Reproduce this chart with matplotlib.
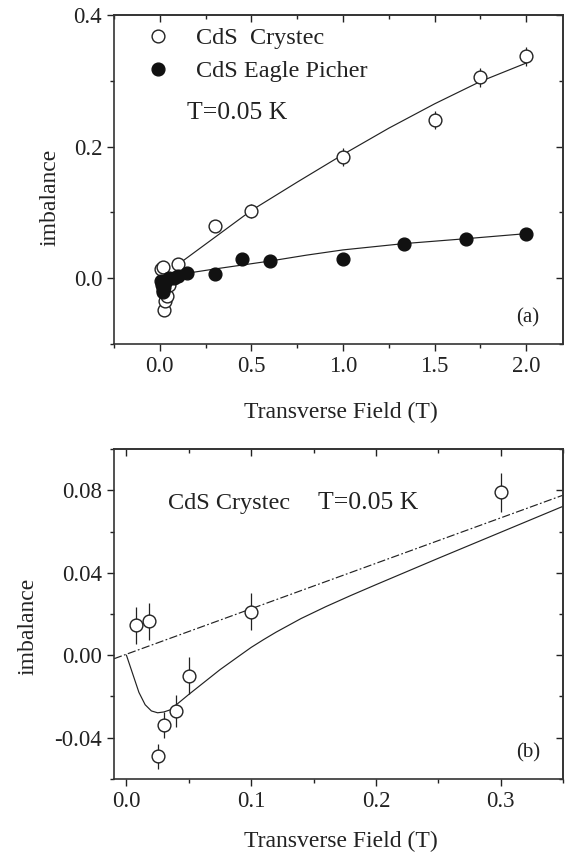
import matplotlib
matplotlib.use('Agg')
import matplotlib.pyplot as plt
from matplotlib.ticker import MultipleLocator, FormatStrFormatter
from matplotlib.lines import Line2D

plt.rcParams['font.family'] = ['Liberation Serif', 'DejaVu Serif']
plt.rcParams['axes.unicode_minus'] = False

INK = '#222222'

# ---- data: CdS Crystec (open circles) ----
crystec_x = [0.008, 0.018, 0.025, 0.030, 0.040, 0.050, 0.100, 0.300, 0.500, 1.000, 1.500, 1.750, 2.000]
crystec_y = [0.0145, 0.0165, -0.049, -0.034, -0.027, -0.010, 0.021, 0.079, 0.102, 0.184, 0.240, 0.305, 0.337]
crystec_err = [0.009, 0.009, 0.006, 0.0063, 0.0078, 0.009, 0.009, 0.0094, 0.010, 0.014, 0.014, 0.014, 0.014]

# ---- data: CdS Eagle Picher (filled circles) ----
eagle_x = [0.005, 0.010, 0.015, 0.020, 0.025, 0.030, 0.040, 0.050, 0.075, 0.100, 0.150, 0.300, 0.450, 0.600, 1.000, 1.330, 1.670, 2.000]
eagle_y = [-0.004, -0.010, -0.018, -0.021, -0.014, -0.006, -0.003, 0.000, 0.001, 0.004, 0.0076, 0.006, 0.0288, 0.0258, 0.0288, 0.0525, 0.060, 0.0677]
eagle_err = [0.004, 0.004, 0.004, 0.004, 0.004, 0.004, 0.004, 0.004, 0.004, 0.004, 0.004, 0.004, 0.005, 0.008, 0.005, 0.005, 0.005, 0.005]

# ---- fit curves ----
crystec_fit_x = [0.1, 0.3, 0.5, 0.75, 1.0, 1.25, 1.5, 1.75, 2.0]
crystec_fit_y = [0.021, 0.062, 0.103, 0.146, 0.188, 0.228, 0.265, 0.299, 0.327]

eagle_fit_x = [0.1, 0.15, 0.3, 0.45, 0.6, 0.8, 1.0, 1.33, 1.67, 2.0]
eagle_fit_y = [0.0055, 0.0076, 0.0140, 0.0200, 0.026, 0.035, 0.043, 0.0525, 0.060, 0.0677]

low_fit_x = [0.0, 0.005, 0.010, 0.015, 0.020, 0.025, 0.030, 0.035, 0.040, 0.050, 0.060, 0.075,
             0.090, 0.100, 0.110, 0.120, 0.140, 0.160, 0.180, 0.200, 0.250, 0.300, 0.350]
low_fit_y = [0.0, -0.009, -0.018, -0.024, -0.027, -0.0279, -0.0275, -0.0265, -0.024, -0.019, -0.0142, -0.0070,
             -0.0005, 0.0038, 0.0076, 0.0112, 0.0178, 0.0236, 0.0290, 0.0342, 0.0470, 0.0596, 0.0722]

linear_x = [-0.01, 0.35]
linear_y = [-0.0017, 0.0776]

legend_labels = ['CdS  Crystec', 'CdS Eagle Picher']

fig = plt.figure(figsize=(5.71, 8.6), dpi=100)
ax1 = fig.add_axes([0.1996, 0.6, 0.7863, 0.3826])
ax2 = fig.add_axes([0.1996, 0.0942, 0.7863, 0.3837])

MS = 9.2


def style(ax, xmaj, xmin, ymaj, ymin, xfmt, yfmt):
    ax.xaxis.set_major_locator(MultipleLocator(xmaj))
    ax.xaxis.set_minor_locator(MultipleLocator(xmin))
    ax.yaxis.set_major_locator(MultipleLocator(ymaj))
    ax.yaxis.set_minor_locator(MultipleLocator(ymin))
    ax.xaxis.set_major_formatter(FormatStrFormatter(xfmt))
    ax.yaxis.set_major_formatter(FormatStrFormatter(yfmt))
    ax.tick_params(which='both', direction='out', colors=INK, labelsize=16.5, width=1.0)
    ax.tick_params(which='major', length=5, pad=3.5)
    ax.tick_params(which='minor', length=3)
    for s in ax.spines.values():
        s.set_linewidth(1.2)
        s.set_color('#333333')
    top = ax.secondary_xaxis('top')
    top.xaxis.set_major_locator(MultipleLocator(xmaj))
    top.xaxis.set_minor_locator(MultipleLocator(xmin))
    top.tick_params(which='both', direction='in', labeltop=False, colors=INK, width=1.0)
    top.tick_params(which='major', length=5)
    top.tick_params(which='minor', length=3)
    top.spines['top'].set_linewidth(1.2)
    top.spines['top'].set_color('#333333')
    right = ax.secondary_yaxis('right')
    right.yaxis.set_major_locator(MultipleLocator(ymaj))
    right.yaxis.set_minor_locator(MultipleLocator(ymin))
    right.tick_params(which='both', direction='in', labelright=False, colors=INK, width=1.0)
    right.tick_params(which='major', length=5)
    right.tick_params(which='minor', length=3)
    right.spines['right'].set_linewidth(1.2)
    right.spines['right'].set_color('#333333')


# ---------------- panel (a) ----------------
ax1.plot(crystec_fit_x, crystec_fit_y, color=INK, lw=0.85, zorder=2)
ax1.plot(eagle_fit_x, eagle_fit_y, color=INK, lw=0.85, zorder=2)
ax1.errorbar(crystec_x, crystec_y, yerr=crystec_err, fmt='o', ms=MS, mfc='white', mec=INK,
             mew=1.0, ecolor=INK, elinewidth=0.9, capsize=0, zorder=3)
ax1.errorbar(eagle_x, eagle_y, yerr=eagle_err, fmt='o', ms=MS, mfc='#111111', mec='#111111',
             mew=1.0, ecolor=INK, elinewidth=0.9, capsize=0, zorder=4)
ax1.set_xlim(-0.25, 2.2)
ax1.set_ylim(-0.1, 0.4)
style(ax1, 0.5, 0.25, 0.2, 0.1, '%.1f', '%.1f')
ax1.set_xlabel('Transverse Field (T)', fontsize=17, color=INK)
ax1.set_ylabel('imbalance', fontsize=17, color=INK)
ax1.xaxis.set_label_coords(0.505, -0.177)
ax1.yaxis.set_label_coords(-0.118, 0.447)

handles = [Line2D([], [], ls='none', marker='o', ms=MS, mfc='white', mec=INK, mew=1.0),
           Line2D([], [], ls='none', marker='o', ms=MS, mfc='#111111', mec='#111111', mew=1.0)]
ax1.legend(handles, legend_labels, loc='upper left', bbox_to_anchor=(0.045, 0.962),
           frameon=False, fontsize=17.5, handlelength=2.0, handletextpad=0.55,
           labelspacing=0.45, borderpad=0, borderaxespad=0, labelcolor=INK)
ax1.text(0.163, 0.702, 'T=0.05 K', transform=ax1.transAxes, fontsize=18.5, color=INK,
         ha='left', va='center')
ax1.text(0.895, 0.08, '(a)', transform=ax1.transAxes, fontsize=15, color=INK,
         ha='left', va='center')

# ---------------- panel (b) ----------------
ax2.plot(linear_x, linear_y, color=INK, lw=0.85, ls=(0, (7, 2, 1.5, 2)), zorder=2)
ax2.plot(low_fit_x, low_fit_y, color=INK, lw=0.85, zorder=2)
ax2.errorbar(crystec_x, crystec_y, yerr=crystec_err, fmt='o', ms=MS, mfc='white', mec=INK,
             mew=1.0, ecolor=INK, elinewidth=0.9, capsize=0, zorder=3)
ax2.set_xlim(-0.01, 0.35)
ax2.set_ylim(-0.06, 0.10)
style(ax2, 0.1, 0.05, 0.04, 0.02, '%.1f', '%.2f')
ax2.set_xlabel('Transverse Field (T)', fontsize=17, color=INK)
ax2.set_ylabel('imbalance', fontsize=17, color=INK)
ax2.xaxis.set_label_coords(0.505, -0.158)
ax2.yaxis.set_label_coords(-0.167, 0.464)
ax2.text(0.12, 0.835, 'CdS Crystec', transform=ax2.transAxes, fontsize=17.5, color=INK,
         ha='left', va='center')
ax2.text(0.455, 0.835, 'T=0.05 K', transform=ax2.transAxes, fontsize=18.5, color=INK,
         ha='left', va='center')
ax2.text(0.895, 0.08, '(b)', transform=ax2.transAxes, fontsize=15, color=INK,
         ha='left', va='center')

fig.savefig('out.png', dpi=100)
